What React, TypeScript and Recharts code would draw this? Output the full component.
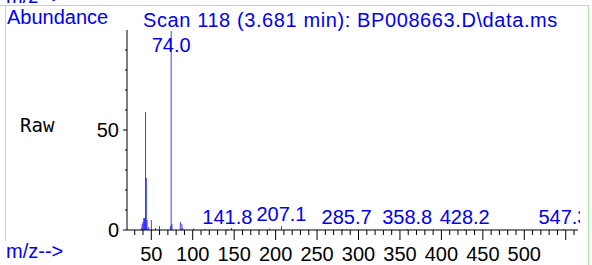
import { ComposedChart, Bar, XAxis, YAxis, LabelList } from 'recharts';

// Spectrum peaks (m/z vs abundance)
const MZ = [38, 39, 40, 41, 42, 43, 44, 45, 47, 50, 55, 60, 73, 74, 75, 85, 87, 88, 101, 115, 141.8, 147, 193, 207.1, 281, 285.7, 358.8, 428.2, 547.3];
const ABUNDANCE = [1, 3, 4, 6, 6, 59, 26, 5, 1.5, 5, 1, 2, 2, 99.5, 3, 4, 3, 1, 0.8, 0.6, 0.5, 1, 0.8, 2, 0.5, 0.5, 0.5, 0.5, 0.5];
const PEAK_LABELS: Record<number, string> = {
  74: '74.0',
  141.8: '141.8',
  207.1: '207.1',
  285.7: '285.7',
  358.8: '358.8',
  428.2: '428.2',
  547.3: '547.3',
};

const X_TICKS = [30, 40, 50, 60, 70, 80, 90, 100, 110, 120, 130, 140, 150, 160, 170, 180, 190, 200, 210, 220, 230, 240, 250, 260, 270, 280, 290, 300, 310, 320, 330, 340, 350, 360, 370, 380, 390, 400, 410, 420, 430, 440, 450, 460, 470, 480, 490, 500, 510, 520, 530, 540, 550, 560];
const X_LABELS = [50, 100, 150, 200, 250, 300, 350, 400, 450, 500];
const Y_TICKS = [0, 10, 20, 30, 40, 50, 60, 70, 80, 90];
const Y_LABELS = [0, 50];

const BLUE = '#0000f0';
const FONT = '"Liberation Sans", Arial, sans-serif';

const data = MZ.map((mz, i) => ({ mz, abundance: ABUNDANCE[i], label: PEAK_LABELS[mz] }));

function XTick({ x, y, payload }: any) {
  const major = payload.value % 50 === 0;
  const labelled = X_LABELS.includes(payload.value);
  return (
    <g>
      <line x1={x} x2={x} y1={y} y2={y + (major ? 10 : 5)} stroke="#000" />
      {labelled && (
        <text x={x} y={y + 31} textAnchor="middle" fontSize={20} fontFamily={FONT} fill="#000">
          {payload.value}
        </text>
      )}
    </g>
  );
}

function YTick({ x, y, payload }: any) {
  const labelled = Y_LABELS.includes(payload.value);
  return (
    <g>
      <line x1={x} x2={x - (labelled ? 4 : 2)} y1={y} y2={y} stroke="#000" />
      {labelled && (
        <text x={x - 8} y={y + 7} textAnchor="end" fontSize={20} fontFamily={FONT} fill="#000">
          {payload.value}
        </text>
      )}
    </g>
  );
}

function PeakLabel({ x, y, width, value }: any) {
  if (!value) return null;
  const cx = x + width / 2;
  const ty = Math.max(y - 5, 52);
  return (
    <svg x={0} y={0} width={580} height={265} overflow="hidden">
      <text x={cx} y={ty} textAnchor="middle" fontSize={20} fontFamily={FONT} fill={BLUE}>
        {value}
      </text>
    </svg>
  );
}

export default function App() {
  return (
    <div style={{ position: 'absolute', left: 0, top: 0, width: 592, height: 265, background: '#fff' }}>
      <ComposedChart width={592} height={265} data={data} margin={{ top: 30, right: 14, left: 67, bottom: 5 }}>
        <XAxis
          dataKey="mz"
          type="number"
          domain={[20.7, 564.8]}
          allowDataOverflow
          ticks={X_TICKS}
          interval={0}
          tickSize={0}
          tickMargin={0}
          height={30}
          tick={<XTick />}
          axisLine={{ stroke: '#000' }}
        />
        <YAxis
          type="number"
          domain={[0, 100]}
          ticks={Y_TICKS}
          interval={0}
          tickSize={0}
          tickMargin={0}
          width={60}
          tick={<YTick />}
          axisLine={{ stroke: '#000' }}
        />
        <Bar dataKey="abundance" fill={BLUE} barSize={1} isAnimationActive={false}>
          <LabelList dataKey="label" content={<PeakLabel />} />
        </Bar>
      </ComposedChart>
      <svg width={592} height={265} style={{ position: 'absolute', left: 0, top: 0, pointerEvents: 'none' }}>
        <line x1={0} x2={588} y1={5.5} y2={5.5} stroke="#a0eca0" />
        <line x1={5.5} x2={5.5} y1={5} y2={241} stroke="#a0eca0" />
        <line x1={588.5} x2={588.5} y1={5} y2={265} stroke="#a0eca0" />
        <text x={6} y={3} fontSize={20} fontFamily={FONT} fill={BLUE}>m/z--&gt;</text>
        <text x={7} y={24} fontSize={20} fontFamily={FONT} fill={BLUE}>Abundance</text>
        <text x={143} y={27} fontSize={20} fontFamily={FONT} fill={BLUE} letterSpacing={0.6}>
          Scan 118 (3.681 min): BP008663.D\data.ms
        </text>
        <text x={20} y={132} fontSize={19} fontFamily='"DejaVu Sans Mono", monospace' fill="#000">Raw</text>
        <text x={6} y={258} fontSize={20} fontFamily={FONT} fill={BLUE}>m/z--&gt;</text>
      </svg>
    </div>
  );
}
